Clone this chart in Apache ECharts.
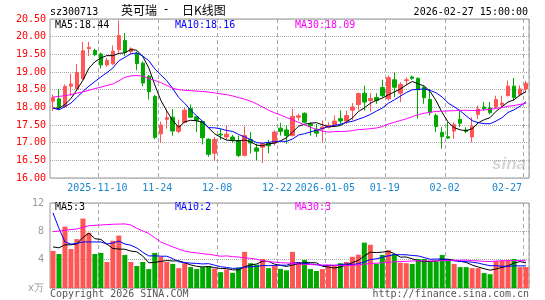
<!DOCTYPE html>
<html>
<head>
<meta charset="utf-8">
<script src="https://cdn.jsdelivr.net/npm/echarts@6/dist/echarts.min.js"></script>
<style>
  html, body { margin: 0; padding: 0; background: #fff; }
  #chart { width: 545px; height: 300px; }
</style>
</head>
<body>
<div id="chart"></div>
<script>
// trading days shown
const dates = [
  '2025-10-29', '2025-10-30', '2025-10-31', '2025-11-03', '2025-11-04', '2025-11-05', '2025-11-06', '2025-11-07',
  '2025-11-10', '2025-11-11', '2025-11-12', '2025-11-13', '2025-11-14', '2025-11-17', '2025-11-18', '2025-11-19',
  '2025-11-20', '2025-11-21', '2025-11-24', '2025-11-25', '2025-11-26', '2025-11-27', '2025-11-28', '2025-12-01',
  '2025-12-02', '2025-12-03', '2025-12-04', '2025-12-05', '2025-12-08', '2025-12-09', '2025-12-10', '2025-12-11',
  '2025-12-12', '2025-12-15', '2025-12-16', '2025-12-17', '2025-12-18', '2025-12-19', '2025-12-22', '2025-12-23',
  '2025-12-24', '2025-12-25', '2025-12-26', '2025-12-29', '2025-12-30', '2025-12-31', '2026-01-05', '2026-01-06',
  '2026-01-07', '2026-01-08', '2026-01-09', '2026-01-12', '2026-01-13', '2026-01-14', '2026-01-15', '2026-01-16',
  '2026-01-19', '2026-01-20', '2026-01-21', '2026-01-22', '2026-01-23', '2026-01-26', '2026-01-27', '2026-01-28',
  '2026-01-29', '2026-01-30', '2026-02-02', '2026-02-03', '2026-02-04', '2026-02-05', '2026-02-06', '2026-02-09',
  '2026-02-10', '2026-02-11', '2026-02-12', '2026-02-13', '2026-02-24', '2026-02-25', '2026-02-26', '2026-02-27'
]

const opens = [
  18.17, 18.24, 18.02, 18.60, 18.52, 18.81, 19.66, 19.61, 19.51, 19.20,
  19.23, 19.63, 19.89, 19.58, 19.53, 19.25, 18.88, 18.31, 17.25, 17.66,
  17.72, 17.32, 17.57, 17.97, 17.73, 17.60, 17.10, 16.70, 17.24, 17.16,
  17.16, 17.06, 16.64, 17.09, 16.85, 16.87, 16.99, 16.99, 17.41, 17.36,
  17.20, 17.72, 17.83, 17.53, 17.38, 17.39, 17.43, 17.51, 17.68, 17.61,
  17.92, 18.08, 18.40, 18.19, 18.28, 18.56, 18.24, 18.78, 18.40, 18.76,
  18.86, 18.82, 18.57, 18.22, 17.77, 17.29, 17.17, 17.33, 17.66, 17.36,
  17.16, 17.80, 18.01, 17.98, 18.01, 18.07, 18.33, 18.60, 18.36, 18.52
]
const closes = [
  18.27, 17.99, 18.59, 18.66, 18.99, 19.60, 19.70, 19.49, 19.20, 19.33,
  19.59, 20.03, 19.56, 19.66, 19.24, 18.69, 18.44, 17.15, 17.50, 17.71,
  17.33, 17.49, 17.92, 17.72, 17.63, 17.14, 16.67, 17.09, 17.22, 17.24,
  17.07, 16.64, 17.20, 16.99, 16.76, 16.97, 16.91, 17.30, 17.32, 17.20,
  17.74, 17.76, 17.58, 17.48, 17.27, 17.44, 17.49, 17.61, 17.61, 17.77,
  18.01, 18.39, 18.15, 18.25, 18.19, 18.33, 18.84, 18.57, 18.65, 18.78,
  18.82, 18.50, 18.27, 17.86, 17.46, 17.17, 17.13, 17.51, 17.55, 17.32,
  17.46, 17.95, 17.96, 17.85, 18.22, 18.12, 18.60, 18.28, 18.52, 18.68
]
const lows = [
  17.90, 17.96, 17.98, 18.33, 18.48, 18.78, 19.45, 19.45, 19.10, 19.15,
  19.20, 19.55, 19.45, 19.50, 19.05, 18.60, 18.22, 17.10, 16.99, 17.40,
  17.20, 17.27, 17.55, 17.70, 17.30, 16.95, 16.60, 16.48, 17.08, 17.07,
  17.00, 16.59, 16.61, 16.70, 16.50, 16.42, 16.70, 16.92, 17.20, 16.97,
  17.18, 17.63, 17.55, 17.20, 17.16, 17.01, 17.40, 17.44, 17.53, 17.53,
  17.63, 17.92, 17.91, 17.88, 18.10, 18.28, 18.20, 18.29, 18.15, 18.62,
  18.78, 17.68, 18.10, 17.77, 17.30, 16.83, 17.11, 17.11, 17.44, 17.27,
  17.01, 17.67, 17.91, 17.80, 17.96, 18.01, 18.31, 18.19, 18.31, 18.43
]
const highs = [
  18.36, 18.52, 18.65, 18.95, 19.23, 19.85, 19.85, 19.66, 19.55, 19.40,
  19.75, 20.46, 20.10, 19.70, 19.58, 19.30, 18.92, 18.35, 17.60, 17.93,
  17.95, 17.65, 18.00, 18.08, 17.76, 17.62, 17.12, 17.16, 17.39, 17.48,
  17.22, 17.20, 17.46, 17.30, 16.97, 17.00, 17.08, 17.35, 17.56, 17.49,
  17.96, 17.82, 17.86, 17.58, 17.53, 17.63, 17.58, 17.77, 17.91, 17.91,
  18.12, 18.42, 18.61, 18.40, 18.40, 18.78, 18.90, 18.99, 18.71, 18.85,
  18.90, 18.85, 18.60, 18.52, 17.82, 17.44, 17.58, 17.58, 17.91, 17.44,
  17.72, 18.05, 18.15, 18.15, 18.33, 18.33, 18.76, 18.83, 18.62, 18.75
]
// volume, 万手
const volumes = [
  5.24, 4.80, 8.67, 5.50, 6.90, 9.80, 7.80, 4.80, 4.95, 3.67,
  6.67, 7.40, 4.67, 3.67, 3.10, 3.67, 2.67, 4.95, 4.40, 3.67,
  3.40, 2.80, 3.50, 2.95, 2.67, 2.95, 3.10, 2.76, 2.24, 2.62,
  2.14, 2.90, 5.10, 3.50, 3.30, 4.10, 2.80, 3.10, 2.70, 2.50,
  5.10, 3.67, 3.95, 2.67, 2.40, 2.67, 3.10, 3.24, 3.50, 3.67,
  4.40, 4.70, 6.40, 6.10, 3.43, 4.67, 5.33, 4.80, 3.57, 3.50,
  3.40, 4.10, 4.10, 3.67, 3.76, 4.67, 4.10, 3.40, 2.95, 2.95,
  2.80, 2.80, 2.10, 1.95, 3.80, 3.90, 3.90, 4.10, 2.95, 2.95
]

// MA values before enough days are in view
const ma5Head = [17.98, 17.97, 18.08, 18.25]
const ma10Head = [17.98, 17.93, 18.02, 18.12, 18.28, 18.45, 18.60, 18.73, 18.86]
const ma30Head = [
  18.29, 18.31, 18.33, 18.36, 18.40, 18.44, 18.48, 18.53, 18.57, 18.62,
  18.66, 18.75, 18.85, 18.89, 18.90, 18.88, 18.82, 18.76, 18.70, 18.62,
  18.54, 18.50, 18.48, 18.47, 18.46, 18.45, 18.43, 18.41, 18.38
]
const volMa5Head = [5.80, 5.67, 6.10, 6.10]
const volMa10Head = [10.6, 8.4, 6.5, 6.2, 6.3, 6.5, 6.5, 6.5, 6.5]
const volMa30Head = [
  7.95, 8.05, 8.15, 8.25, 8.33, 8.55, 8.80, 8.85, 8.90, 8.95,
  9.00, 9.02, 9.05, 8.90, 8.43, 8.05, 7.70, 7.10, 6.50, 6.15,
  5.80, 5.50, 5.20, 5.05, 4.95, 4.85, 4.76, 4.62, 4.48
]

const priceTicks = [16, 20.5, 0.5]
const volTicks = [0, 12, 4]
const tickDates = ['2025-11-10', '2025-11-24', '2025-12-08', '2025-12-22', '2026-01-05', '2026-01-19', '2026-02-02', '2026-02-27']
const tickLabels = ['2025-11-10', '11-24', '12-08', '12-22', '2026-01-05', '01-19', '02-02', '02-27']
const maLegend = ['MA5:18.44', 'MA10:18.16', 'MA30:18.09']
const volLegend = ['MA5:3', 'MA10:2', 'MA30:3']

const UP = '#ff5555'
const DOWN = '#00a800'
const MONO = '"DejaVu Sans Mono", monospace'
const CJK = '"Noto Sans CJK SC"'

function calcMA(n, src, head) {
  return src.map((v, i) => {
    if (i < n - 1) return head[i]
    let s = 0
    for (let k = i - n + 1; k <= i; k++) s += src[k]
    return +(s / n).toFixed(3)
  })
}

const kData = dates.map((d, i) => [opens[i], closes[i], lows[i], highs[i]])
const volData = volumes.map((v, i) => ({
  value: v,
  itemStyle: { color: closes[i] >= opens[i] ? UP : DOWN }
}))

const isTick = (idx, val) => tickDates.indexOf(val) >= 0
const last = dates.length - 1

const chart = echarts.init(document.getElementById('chart'))

const xBase = {
  type: 'category',
  data: dates,
  boundaryGap: true,
  axisLine: { show: false },
  axisTick: { show: false },
  splitLine: {
    show: true,
    interval: isTick,
    lineStyle: { color: '#aaa', type: [4, 3], width: 1 }
  }
}

const line = (name, data, color, xi) => ({
  name,
  type: 'line',
  data,
  xAxisIndex: xi,
  yAxisIndex: xi,
  symbol: 'none',
  silent: true,
  z: 5,
  lineStyle: { color, width: 1 }
})

const text = (x, y, t, fill, font, align) => ({
  type: 'text',
  x, y,
  silent: true,
  style: { text: t, fill, font, textAlign: align || 'left', textVerticalAlign: 'middle' }
})

chart.setOption({
  animation: false,
  backgroundColor: '#fff',
  grid: [
    { left: 50, right: 16, top: 19, height: 159, show: true, borderColor: '#999', borderWidth: 1 },
    { left: 50, right: 16, top: 203, height: 85, show: true, borderColor: '#999', borderWidth: 1 }
  ],
  xAxis: [
    Object.assign({}, xBase, {
      gridIndex: 0,
      axisLabel: {
        interval: isTick,
        margin: 5,
        color: '#1a86cf',
        fontFamily: MONO,
        fontSize: 10,
        padding: [0, 7, 0, 0],
        formatter: (val, idx) => {
          const lbl = tickLabels[tickDates.indexOf(val)]
          return idx === last ? '{end|' + lbl + '}' : lbl
        },
        rich: {
          end: { color: '#1a86cf', fontFamily: MONO, fontSize: 10, padding: [0, 31, 0, 0] }
        }
      }
    }),
    Object.assign({}, xBase, { gridIndex: 1, axisLabel: { show: false } })
  ],
  yAxis: [
    {
      type: 'value',
      gridIndex: 0,
      min: priceTicks[0],
      max: priceTicks[1],
      interval: priceTicks[2],
      axisLine: { show: false },
      axisTick: { show: false },
      axisLabel: {
        margin: 4,
        color: '#f00',
        fontFamily: MONO,
        fontSize: 10,
        formatter: v => v.toFixed(2)
      },
      splitLine: { lineStyle: { color: '#aaa', type: [1, 1], width: 1 } }
    },
    {
      type: 'value',
      gridIndex: 1,
      min: volTicks[0],
      max: volTicks[1],
      interval: volTicks[2],
      axisLine: { show: false },
      axisTick: { show: false },
      axisLabel: {
        margin: 6,
        color: '#999',
        fontFamily: MONO,
        fontSize: 10,
        formatter: v => (v === 0 ? 'x万' : String(v))
      },
      splitLine: { lineStyle: { color: '#aaa', type: [1, 1], width: 1 } }
    }
  ],
  series: [
    {
      name: 'K',
      type: 'candlestick',
      data: kData,
      xAxisIndex: 0,
      yAxisIndex: 0,
      barWidth: 4,
      silent: true,
      itemStyle: { color: UP, color0: DOWN, borderColor: UP, borderColor0: DOWN, borderWidth: 1 }
    },
    line('MA5', calcMA(5, closes, ma5Head), '#000', 0),
    line('MA10', calcMA(10, closes, ma10Head), '#0000ff', 0),
    line('MA30', calcMA(30, closes, ma30Head), '#ff00ff', 0),
    {
      name: 'VOL',
      type: 'bar',
      data: volData,
      xAxisIndex: 1,
      yAxisIndex: 1,
      barWidth: 5,
      silent: true
    },
    line('VMA5', calcMA(5, volumes, volMa5Head), '#000', 1),
    line('VMA10', calcMA(10, volumes, volMa10Head), '#0000ff', 1),
    line('VMA30', calcMA(30, volumes, volMa30Head), '#ff00ff', 1)
  ],
  graphic: [
    text(50, 12, 'sz300713', '#000', '10px ' + MONO),
    text(121, 10, '英可瑞', '#000', '12px ' + CJK),
    text(166, 10, '-', '#000', '12px ' + MONO, 'center'),
    text(182, 10, '日K线图', '#000', '12px ' + CJK),
    text(528, 12, '2026-02-27 15:00:00', '#000', '10px ' + MONO, 'right'),
    text(55, 25, maLegend[0], '#000', '10px ' + MONO),
    text(175, 25, maLegend[1], '#0000ff', '10px ' + MONO),
    text(295, 25, maLegend[2], '#ff00ff', '10px ' + MONO),
    text(55, 207, volLegend[0], '#000', '10px ' + MONO),
    text(175, 207, volLegend[1], '#0000ff', '10px ' + MONO),
    text(295, 207, volLegend[2], '#ff00ff', '10px ' + MONO),
    text(50, 294, 'Copyright 2026 SINA.COM', '#555', '10px ' + MONO),
    text(529, 294, 'http://finance.sina.com.cn', '#555', '10px ' + MONO, 'right'),
    text(526, 164, 'sina', 'rgba(180,180,180,0.55)', 'italic bold 17px "Liberation Sans"', 'right')
  ]
})
</script>
</body>
</html>
